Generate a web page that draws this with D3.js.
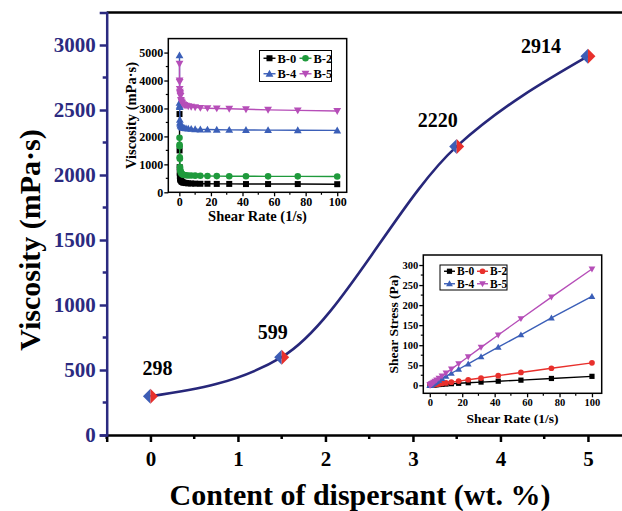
<!DOCTYPE html>
<html><head><meta charset="utf-8">
<script src="https://cdn.jsdelivr.net/npm/d3@7"></script>
<style>body{margin:0;background:#fff}svg{display:block}text{font-family:"Liberation Serif","Times New Roman",serif;font-weight:bold}</style>
</head><body><svg id="c" width="622" height="511"></svg>
<script>
// ---- main data ----
const content = [0, 1.5, 3.5, 5];
const viscosity = [298, 599, 2220, 2914];
const mainXTicks = [0, 1, 2, 3, 4, 5];
const mainYTicks = [0, 500, 1000, 1500, 2000, 2500, 3000];

// ---- inset data ----
const shearRate = [0.1, 0.133, 0.178, 0.237, 0.316, 0.422, 0.562, 0.75, 1, 1.33, 1.78, 2.37, 3.16, 4.22, 5.62, 7.5, 10, 13.3, 17.8, 23.7, 31.6, 42.2, 56.2, 75, 100];
const seriesNames = ["B-0", "B-2", "B-4", "B-5"];
const viscB0 = [2800, 1500, 900, 700, 580, 510, 470, 440, 420, 390, 370, 350, 340, 330, 320, 315, 310, 305, 305, 300, 300, 295, 295, 295, 290];
const viscB2 = [1950, 1700, 1650, 1250, 1200, 900, 800, 750, 700, 670, 650, 630, 620, 610, 600, 600, 595, 590, 585, 580, 575, 575, 570, 570, 565];
const viscB4 = [4900, 3200, 3100, 3050, 2600, 2500, 2450, 2400, 2380, 2350, 2330, 2310, 2300, 2290, 2280, 2270, 2260, 2250, 2245, 2240, 2235, 2230, 2225, 2220, 2215];
const viscB5 = [4600, 4000, 3950, 3700, 3600, 3550, 3500, 3450, 3300, 3250, 3200, 3150, 3120, 3100, 3080, 3060, 3040, 3020, 3010, 3000, 2990, 2970, 2950, 2930, 2910];
const stressB0 = [0.3, 0.3, 0.3, 0.3, 0.3, 0.3, 0.4, 0.4, 0.5, 0.6, 0.7, 0.9, 1.1, 1.4, 1.9, 2.4, 3.1, 4.0, 5.0, 6.4, 8.0, 10.2, 12.8, 17.0, 22.3];
const stressB2 = [0.2, 0.2, 0.3, 0.3, 0.4, 0.4, 0.5, 0.6, 0.7, 0.9, 1.2, 1.5, 2.0, 2.6, 3.4, 4.5, 6.0, 7.8, 10.5, 13.8, 18.0, 24.0, 32.0, 42.5, 56.0];
const stressB4 = [0.5, 0.4, 0.6, 0.7, 0.8, 1.1, 1.4, 1.8, 2.4, 3.1, 4.1, 5.5, 7.3, 9.7, 12.8, 17.0, 22.6, 30.0, 40.0, 53.5, 71.5, 95.0, 126.0, 168.0, 222.0];
const stressB5 = [0.5, 0.5, 0.7, 0.9, 1.1, 1.5, 2.0, 2.6, 3.3, 4.3, 5.7, 7.5, 9.9, 13.1, 17.3, 23.0, 30.4, 40.2, 53.6, 71.1, 94.5, 125.4, 166.0, 220.0, 290.0];
const inset1XTicks = [0, 20, 40, 60, 80, 100];
const inset1YTicks = [0, 1000, 2000, 3000, 4000, 5000];
const inset2XTicks = [0, 20, 40, 60, 80, 100];
const inset2YTicks = [0, 50, 100, 150, 200, 250, 300];

const svg = d3.select("#c");
const NAVY = "#2b2a80";

// ================= MAIN =================
const x = d3.scaleLinear().domain([-0.5, 5.5]).range([106.7, 631.7]);
const y = d3.scaleLinear().domain([0, 3250]).range([435, 12.5]);

svg.append("line").attr("x1", x(-0.5)).attr("x2", x(5.5)).attr("y1", y(3250)).attr("y2", y(3250))
  .attr("stroke", "#000").attr("stroke-width", 2.5);

const gx = svg.append("g").attr("transform", `translate(0,${y(0)})`);
gx.call(d3.axisBottom(x).tickValues(mainXTicks).tickSize(7).tickPadding(9).tickFormat(d3.format("d")));
gx.select(".domain").attr("stroke", "#000").attr("stroke-width", 2.5);
gx.selectAll(".tick line").attr("stroke", "#000").attr("stroke-width", 2.5);
gx.selectAll(".tick text").attr("font-size", 21).attr("fill", "#000").attr("font-family", "Liberation Serif").attr("font-weight", "bold");
gx.selectAll(".minor").data(d3.range(-0.5, 5.51, 0.5).filter(v => !mainXTicks.includes(v)))
  .enter().append("line").attr("x1", d => x(d)).attr("x2", d => x(d)).attr("y1", 0).attr("y2", 4)
  .attr("stroke", "#000").attr("stroke-width", 2.5);

const gy = svg.append("g").attr("transform", `translate(${x(-0.5)},0)`);
gy.call(d3.axisLeft(y).tickValues(mainYTicks).tickSize(7).tickPadding(4).tickFormat(d3.format("d")));
gy.select(".domain").attr("stroke", NAVY).attr("stroke-width", 2.5);
gy.selectAll(".tick line").attr("stroke", NAVY).attr("stroke-width", 2.5);
gy.selectAll(".tick text").attr("font-size", 21).attr("fill", NAVY).attr("font-family", "Liberation Serif").attr("font-weight", "bold");
gy.selectAll(".minor").data(d3.range(250, 3250, 500))
  .enter().append("line").attr("x1", -4).attr("x2", 0).attr("y1", d => y(d)).attr("y2", d => y(d))
  .attr("stroke", NAVY).attr("stroke-width", 2.5);

svg.append("text").attr("x", 360).attr("y", 505).attr("text-anchor", "middle").attr("font-size", 30).attr("fill", "#000")
  .text("Content of dispersant (wt. %)");
svg.append("text").attr("transform", `translate(40,240) rotate(-90)`).attr("text-anchor", "middle").attr("font-size", 30).attr("fill", "#000")
  .text("Viscosity (mPa·s)");

const pts = content.map((c, i) => [c, viscosity[i]]);
svg.append("path").datum(pts)
  .attr("d", d3.line().x(d => x(d[0])).y(d => y(d[1])).curve(d3.curveMonotoneX))
  .attr("fill", "none").attr("stroke", "#27277a").attr("stroke-width", 2.6);

const mk = svg.append("g");
pts.forEach(([c, v]) => {
  const cx = x(c), cy = y(v), r = 7.5;
  mk.append("path").attr("d", `M${cx},${cy - r}L${cx - r},${cy}L${cx},${cy + r}Z`).attr("fill", "#3d5db5");
  mk.append("path").attr("d", `M${cx},${cy - r}L${cx + r},${cy}L${cx},${cy + r}Z`).attr("fill", "#e8302c");
});
const labelOffsets = [[7, -21], [-9, -18], [-19, -19], [-47, -3]];
pts.forEach(([c, v], i) => {
  svg.append("text").attr("x", x(c) + labelOffsets[i][0]).attr("y", y(v) + labelOffsets[i][1])
    .attr("text-anchor", "middle").attr("font-size", 20).attr("fill", "#000").text(v);
});

function drawSym(g, type, cx, cy, s, color) {
  if (type === "square") g.append("rect").attr("x", cx - s).attr("y", cy - s).attr("width", 2 * s).attr("height", 2 * s).attr("fill", color);
  else if (type === "circle") g.append("circle").attr("cx", cx).attr("cy", cy).attr("r", s * 1.1).attr("fill", color);
  else if (type === "up") g.append("path").attr("d", `M${cx},${cy - s * 1.3}L${cx - s * 1.3},${cy + s}L${cx + s * 1.3},${cy + s}Z`).attr("fill", color);
  else g.append("path").attr("d", `M${cx},${cy + s * 1.3}L${cx - s * 1.3},${cy - s}L${cx + s * 1.3},${cy - s}Z`).attr("fill", color);
}

function inset(opts) {
  const g = svg.append("g");
  const {xs, ys, xTicks, yTicks, xMinor, yMinor, series, tickFont, titleFont, xTitle, yTitle, xTitleY, yTitleX, legend, symSize} = opts;
  const [x0, x1] = xs.range(), [y0, y1] = ys.range();
  g.append("rect").attr("x", x0).attr("y", y1).attr("width", x1 - x0).attr("height", y0 - y1).attr("fill", "#fff");
  const ax = g.append("g").attr("transform", `translate(0,${y0})`)
    .call(d3.axisBottom(xs).tickValues(xTicks).tickSize(4).tickPadding(1).tickFormat(d3.format("d")));
  const ay = g.append("g").attr("transform", `translate(${x0},0)`)
    .call(d3.axisLeft(ys).tickValues(yTicks).tickSize(4).tickPadding(1).tickFormat(d3.format("d")));
  [ax, ay].forEach(a => {
    a.select(".domain").remove();
    a.selectAll(".tick line").attr("stroke", "#000").attr("stroke-width", 1.3);
    a.selectAll(".tick text").attr("font-size", tickFont).attr("fill", "#000").attr("font-family", "Liberation Serif").attr("font-weight", "bold");
  });
  xMinor.forEach(v => g.append("line").attr("x1", xs(v)).attr("x2", xs(v)).attr("y1", y0).attr("y2", y0 + 2.5).attr("stroke", "#000").attr("stroke-width", 1.2));
  yMinor.forEach(v => g.append("line").attr("x1", x0 - 2.5).attr("x2", x0).attr("y1", ys(v)).attr("y2", ys(v)).attr("stroke", "#000").attr("stroke-width", 1.2));
  series.forEach(s => {
    const d = shearRate.map((r, i) => [r, s.values[i]]);
    g.append("path").datum(d).attr("d", d3.line().x(p => xs(p[0])).y(p => ys(p[1])))
      .attr("fill", "none").attr("stroke", s.color).attr("stroke-width", 1.4);
    const mg = g.append("g");
    d.forEach(p => drawSym(mg, s.sym, xs(p[0]), ys(p[1]), symSize, s.color));
  });
  g.append("rect").attr("x", x0).attr("y", y1).attr("width", x1 - x0).attr("height", y0 - y1)
    .attr("fill", "none").attr("stroke", "#000").attr("stroke-width", 1.5);
  g.append("text").attr("x", (x0 + x1) / 2).attr("y", xTitleY).attr("text-anchor", "middle").attr("font-size", titleFont).text(xTitle);
  g.append("text").attr("transform", `translate(${yTitleX},${(y0 + y1) / 2}) rotate(-90)`).attr("text-anchor", "middle").attr("font-size", titleFont).text(yTitle);
  const L = legend;
  g.append("rect").attr("x", L.x).attr("y", L.y).attr("width", L.w).attr("height", L.h).attr("fill", "#fff").attr("stroke", "#000").attr("stroke-width", 1);
  series.forEach((s, i) => {
    const col = i % 2, row = Math.floor(i / 2);
    const lx = L.x + 4 + col * L.colW, ly = L.y + L.h / 4 + row * L.h / 2;
    g.append("line").attr("x1", lx).attr("x2", lx + L.lineW).attr("y1", ly).attr("y2", ly).attr("stroke", s.color).attr("stroke-width", 1.4);
    drawSym(g, s.sym, lx + L.lineW / 2, ly, symSize, s.color);
    g.append("text").attr("x", lx + L.lineW + 2).attr("y", ly + L.font * 0.35).attr("font-size", L.font).text(s.name);
  });
}

inset({
  xs: d3.scaleLinear().domain([-7, 106]).range([168.3, 346.7]),
  ys: d3.scaleLinear().domain([0, 5500]).range([192.3, 38.6]),
  xTicks: inset1XTicks, yTicks: inset1YTicks,
  xMinor: [10, 30, 50, 70, 90], yMinor: [500, 1500, 2500, 3500, 4500],
  series: [
    {name: seriesNames[0], values: viscB0, color: "#000", sym: "square"},
    {name: seriesNames[1], values: viscB2, color: "#1f9a3c", sym: "circle"},
    {name: seriesNames[2], values: viscB4, color: "#3b5fb8", sym: "up"},
    {name: seriesNames[3], values: viscB5, color: "#b64eb8", sym: "down"}
  ],
  tickFont: 12, titleFont: 14.5,
  xTitle: "Shear Rate (1/s)", yTitle: "Viscosity (mPa·s)", xTitleY: 221, yTitleX: 136,
  legend: {x: 259.5, y: 50.5, w: 72, h: 31, colW: 36, lineW: 12, font: 12.5},
  symSize: 3
});

inset({
  xs: d3.scaleLinear().domain([-4, 106]).range([423.3, 601.7]),
  ys: d3.scaleLinear().domain([-20, 325]).range([393.3, 255]),
  xTicks: inset2XTicks, yTicks: inset2YTicks,
  xMinor: [10, 30, 50, 70, 90], yMinor: [25, 75, 125, 175, 225, 275],
  series: [
    {name: seriesNames[0], values: stressB0, color: "#000", sym: "square"},
    {name: seriesNames[1], values: stressB2, color: "#e8302c", sym: "circle"},
    {name: seriesNames[2], values: stressB4, color: "#3b5fb8", sym: "up"},
    {name: seriesNames[3], values: stressB5, color: "#b64eb8", sym: "down"}
  ],
  tickFont: 10.5, titleFont: 13.5,
  xTitle: "Shear Rate (1/s)", yTitle: "Shear Stress (Pa)", xTitleY: 423, yTitleX: 398,
  legend: {x: 440, y: 265, w: 67, h: 25, colW: 33, lineW: 11, font: 11.5},
  symSize: 2.6
});
</script></body></html>
